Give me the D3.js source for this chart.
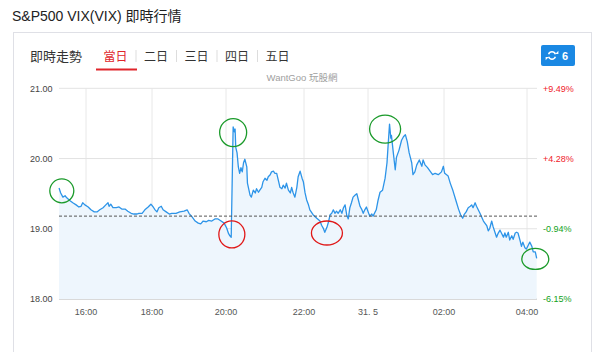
<!DOCTYPE html>
<html>
<head>
    <meta charset="utf-8">
    <script src="https://cdnjs.cloudflare.com/ajax/libs/d3/7.8.5/d3.min.js"></script>
    <style>
        body { margin: 0; background: #fff; }
        svg text { font-family: "Liberation Sans", Arial, "Noto Sans CJK TC", sans-serif; }
    </style>
</head>
<body>
    <div id="chart"></div>
    <script>
        // intraday VIX
        const times = [
            "15:11","15:14","15:18","15:22","15:25","15:31","15:36","15:42","15:47","15:51","15:54","15:58",
            "16:04","16:09","16:15","16:20","16:25","16:31","16:36","16:40","16:42","16:45","16:49","16:55",
            "17:00","17:05","17:11","17:16","17:22","17:27","17:33","17:36","17:42","17:47","17:53","17:58",
            "18:02","18:05","18:08","18:11","18:15","18:18","18:23","18:28","18:32","18:39","18:45","18:52","18:57",
            "19:00","19:05","19:10","19:15","19:19","19:23","19:28","19:32","19:37","19:42","19:47","19:52","19:57",
            "20:01","20:04","20:06","20:08","20:11","20:13","20:14","20:15","20:17","20:19","20:21","20:23","20:25",
            "20:27","20:29","20:32","20:33","20:37","20:39","20:42","20:45","20:47","20:50","20:52","20:55","20:57",
            "21:00","21:03","21:05","21:08","21:10","21:13","21:15","21:18","21:21","21:23","21:26","21:28","21:31",
            "21:33","21:36","21:39","21:41","21:43","21:46","21:49","21:51","21:54","21:57","21:59",
            "22:02","22:05","22:08","22:11","22:17","22:24","22:30","22:33","22:36","22:39","22:43","22:46","22:49",
            "22:52","22:55","22:58","23:01","23:04","23:08","23:11","23:14","23:17","23:20","23:23","23:26","23:29",
            "23:32","23:36","23:39","23:42","23:45","23:48","23:51","23:54","23:57",
            "00:01","00:03","00:06","00:08","00:13","00:16","00:19","00:23","00:27","00:30","00:32","00:34","00:36",
            "00:37","00:40","00:43","00:45","00:49","00:53","00:56","00:59","01:02","01:05","01:09","01:11","01:14",
            "01:17","01:21","01:25","01:27","01:30","01:34","01:38","01:42","01:46","01:51","01:56","01:59",
            "02:01","02:06","02:09","02:13","02:17","02:21","02:24","02:27","02:29","02:32","02:35","02:38","02:40",
            "02:42","02:45","02:47","02:52","02:57","03:02","03:04","03:06","03:09","03:11","03:14","03:16","03:18",
            "03:21","03:23","03:26","03:28","03:30","03:33","03:35","03:38","03:40","03:43","03:45","03:47","03:50",
            "03:52","03:54","03:57","03:59","04:02","04:04","04:07","04:09","04:12","04:14"
        ];
        const values = [
            19.58,19.51,19.45,19.47,19.44,19.40,19.37,19.34,19.31,19.32,19.37,19.34,
            19.31,19.27,19.24,19.24,19.27,19.30,19.34,19.37,19.32,19.35,19.30,19.30,
            19.31,19.28,19.28,19.25,19.22,19.21,19.21,19.22,19.22,19.27,19.31,19.35,
            19.31,19.27,19.24,19.30,19.32,19.27,19.24,19.21,19.22,19.22,19.24,19.25,19.27,
            19.22,19.17,19.11,19.08,19.07,19.11,19.10,19.12,19.11,19.14,19.14,19.11,19.08,
            19.01,18.93,18.90,18.88,20.45,20.38,20.42,20.16,20.08,19.88,19.79,19.87,19.81,
            19.94,19.99,19.88,19.65,19.48,19.45,19.55,19.51,19.57,19.52,19.55,19.59,19.67,
            19.72,19.69,19.74,19.77,19.81,19.82,19.79,19.79,19.67,19.59,19.57,19.62,19.58,
            19.65,19.55,19.51,19.59,19.52,19.45,19.59,19.74,19.82,19.72,19.67,
            19.51,19.41,19.35,19.27,19.20,19.15,19.11,19.05,19.01,18.95,19.02,19.10,19.20,
            19.22,19.27,19.22,19.25,19.22,19.27,19.22,19.30,19.34,19.20,19.14,19.30,19.37,
            19.45,19.48,19.50,19.41,19.32,19.28,19.22,19.27,19.31,
            19.22,19.18,19.21,19.18,19.27,19.41,19.52,19.55,19.72,19.94,20.22,20.49,20.29,
            20.33,20.08,19.84,20.02,20.12,20.26,20.31,20.34,20.24,20.08,19.94,19.77,19.81,
            19.91,19.98,19.89,19.98,19.91,19.87,19.82,19.77,19.79,19.77,19.81,19.89,
            19.79,19.75,19.65,19.54,19.41,19.28,19.20,19.15,19.20,19.24,19.30,19.32,19.34,
            19.30,19.37,19.32,19.22,19.11,19.04,18.97,19.00,19.11,19.03,18.94,18.88,18.93,
            18.98,18.94,18.88,18.94,18.88,18.95,18.84,18.90,18.85,18.94,18.95,18.94,18.83,
            18.75,18.81,18.73,18.71,18.77,18.81,18.75,18.67,18.67,18.58
        ];
        const prevClose = 19.18;
        const yTicks = [18, 19, 20, 21];
        const xTickTimes = ["16:00", "18:00", "20:00", "22:00", "00:00", "02:00", "04:00"];
        const xTickLabels = ["16:00", "18:00", "20:00", "22:00", "31. 5", "02:00", "04:00"];
        // the source axis is not evenly spaced, so the time scale is piecewise
        const xTickPx = [86, 152, 226, 304, 368, 444, 527];

        const tabs = ["當日", "二日", "三日", "四日", "五日"];

        // hand-drawn rings on the original screenshot
        const marks = [
            { t: "15:16", v: 19.54, color: "#1a9a2a", rx: 12, ry: 12 },
            { t: "20:11", v: 20.37, color: "#1a9a2a", rx: 13.5, ry: 14 },
            { t: "00:27", v: 20.42, color: "#1a9a2a", rx: 15.5, ry: 14 },
            { t: "04:12", v: 18.57, color: "#1a9a2a", rx: 13.5, ry: 10.5 },
            { t: "20:09", v: 18.92, color: "#e01818", rx: 13, ry: 13.5 },
            { t: "22:43", v: 18.94, color: "#e01818", rx: 15.5, ry: 12 }
        ];

        const width = 600, height = 352;
        const plotL = 59, plotR = 537, plotT = 88.3, plotB = 299;

        function toDate(s) {
            const [h, m] = s.split(":").map(Number);
            return new Date(2019, 4, h < 12 ? 31 : 30, h, m);
        }

        const data = times.map((t, i) => ({ date: toDate(t), value: values[i] }));

        const x = d3.scaleTime().domain(xTickTimes.map(toDate)).range(xTickPx);
        const y = d3.scaleLinear().domain([18, 21]).range([plotB, plotT]);

        const svg = d3.select("#chart").append("svg")
            .attr("width", width).attr("height", height);

        // title
        svg.append("text").attr("x", 12).attr("y", 21)
            .attr("font-size", 14).attr("fill", "#222")
            .text("S&P500 VIX(VIX) 即時行情");

        // card
        svg.append("rect").attr("x", 13.5).attr("y", 32.5)
            .attr("width", 578).attr("height", 400)
            .attr("fill", "#fff").attr("stroke", "#dfe0e6");

        svg.append("text").attr("x", 30).attr("y", 61)
            .attr("font-size", 13).attr("fill", "#333")
            .text("即時走勢");

        const tabX = d3.scalePoint().domain(tabs).range([115.5, 277.5]);
        svg.append("g").selectAll("text").data(tabs).join("text")
            .attr("x", d => tabX(d)).attr("y", 60.5)
            .attr("text-anchor", "middle").attr("font-size", 12)
            .attr("fill", (d, i) => i === 0 ? "#e0252b" : "#333")
            .text(d => d);
        svg.append("g").selectAll("line").data(tabs.slice(1)).join("line")
            .attr("x1", d => tabX(d) - 20).attr("x2", d => tabX(d) - 20)
            .attr("y1", 50).attr("y2", 62)
            .attr("stroke", "#ddd");
        svg.append("rect").attr("x", 96).attr("y", 68.5)
            .attr("width", 41).attr("height", 2).attr("fill", "#e0252b");

        // refresh button
        const btn = svg.append("g").attr("transform", "translate(541,45)");
        btn.append("rect").attr("width", 34).attr("height", 21).attr("rx", 2)
            .attr("fill", "#1a88e3");
        const icon = btn.append("g").attr("transform", "translate(11,10.5)");
        const ring = d3.arc().innerRadius(2.9).outerRadius(4.4);
        icon.append("path").attr("fill", "#fff")
            .attr("d", ring({ startAngle: -1.2, endAngle: 1.2 }));
        icon.append("path").attr("fill", "#fff")
            .attr("d", ring({ startAngle: Math.PI - 1.2, endAngle: Math.PI + 1.2 }));
        icon.append("path").attr("fill", "#fff").attr("d", "M3.2,-1.5 L6.4,-1.5 L6.4,-4.7 Z");
        icon.append("path").attr("fill", "#fff").attr("d", "M-3.2,1.5 L-6.4,1.5 L-6.4,4.7 Z");
        btn.append("text").attr("x", 24).attr("y", 14.5)
            .attr("text-anchor", "middle").attr("font-size", 11).attr("font-weight", "bold")
            .attr("fill", "#fff").text("6");

        svg.append("text").attr("x", 302).attr("y", 81)
            .attr("text-anchor", "middle").attr("font-size", 9.5).attr("fill", "#a0a0a0")
            .text("WantGoo 玩股網");

        // grid
        svg.append("g").selectAll("line").data(xTickTimes).join("line")
            .attr("x1", d => x(toDate(d))).attr("x2", d => x(toDate(d)))
            .attr("y1", plotT).attr("y2", plotB)
            .attr("stroke", "#e8e8e8");
        svg.append("g").selectAll("line").data(yTicks).join("line")
            .attr("x1", plotL).attr("x2", plotR)
            .attr("y1", d => y(d)).attr("y2", d => y(d))
            .attr("stroke", d => d === 18 ? "#ccc" : "#e3e3e3")
            .attr("stroke-width", d => d === 18 ? 1.5 : 1);

        // area + line
        const area = d3.area().x(d => x(d.date)).y0(plotB).y1(d => y(d.value));
        const line = d3.line().x(d => x(d.date)).y(d => y(d.value));
        svg.append("path").datum(data).attr("d", area).attr("fill", "#eef6fd");
        svg.append("path").datum(data).attr("d", line)
            .attr("fill", "none").attr("stroke", "#2d94e8")
            .attr("stroke-width", 1.3).attr("stroke-linejoin", "round");

        // previous close
        svg.append("line")
            .attr("x1", plotL).attr("x2", plotR)
            .attr("y1", y(prevClose)).attr("y2", y(prevClose))
            .attr("stroke", "#555").attr("stroke-dasharray", "3,2");

        // axis labels
        svg.append("g").selectAll("text").data(yTicks).join("text")
            .attr("x", 52.5).attr("y", d => y(d) + 3.3)
            .attr("text-anchor", "end").attr("font-size", 9).attr("fill", "#444")
            .text(d => d.toFixed(2));
        svg.append("g").selectAll("text").data(yTicks).join("text")
            .attr("x", 543).attr("y", d => y(d) + 3.3)
            .attr("font-size", 9)
            .attr("fill", d => d > prevClose ? "#f0222a" : "#12a21a")
            .text(d => {
                const p = (d / prevClose - 1) * 100;
                return (p > 0 ? "+" : "") + p.toFixed(2) + "%";
            });
        svg.append("g").selectAll("text").data(xTickTimes).join("text")
            .attr("x", d => x(toDate(d))).attr("y", 314.5)
            .attr("text-anchor", "middle").attr("font-size", 9).attr("fill", "#555")
            .text((d, i) => xTickLabels[i]);

        // annotation rings
        svg.append("g").selectAll("ellipse").data(marks).join("ellipse")
            .attr("cx", d => x(toDate(d.t))).attr("cy", d => y(d.v))
            .attr("rx", d => d.rx).attr("ry", d => d.ry)
            .attr("fill", "none").attr("stroke", d => d.color).attr("stroke-width", 1.3);
    </script>
</body>
</html>
